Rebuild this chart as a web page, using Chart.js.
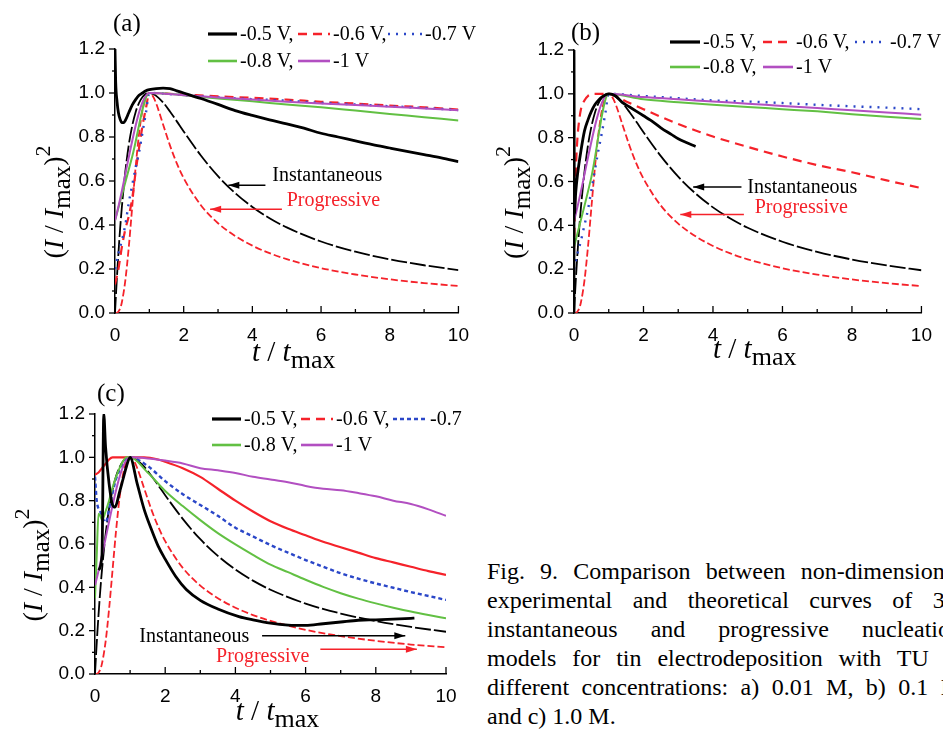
<!DOCTYPE html>
<html>
<head>
<meta charset="utf-8">
<script src="https://cdn.jsdelivr.net/npm/chart.js@4.4.1/dist/chart.umd.min.js"></script>
<style>
  html, body { margin: 0; padding: 0; background: #fff; }
  body { width: 943px; height: 731px; position: relative; overflow: hidden; }
  .panel { position: absolute; }
  #caption { position: absolute; left: 487px; top: 557px; width: 475px;
    font-family: "Liberation Serif", "DejaVu Serif", serif; font-size: 24px; line-height: 29px; color: #000; }
  #caption div { text-align: justify; text-align-last: justify; white-space: nowrap; }
  #caption div.last { text-align-last: left; }
</style>
</head>
<body>
<canvas id="chartA" class="panel" width="480" height="370" style="left:0;top:0"></canvas>
<canvas id="chartB" class="panel" width="463" height="370" style="left:480px;top:0"></canvas>
<canvas id="chartC" class="panel" width="480" height="361" style="left:0;top:370px"></canvas>
<div id="caption">
  <div>Fig. 9. Comparison between non-dimensional</div>
  <div>experimental and theoretical curves of 3D</div>
  <div>instantaneous and progressive nucleation</div>
  <div>models for tin electrodeposition with TU at</div>
  <div>different concentrations: a) 0.01 M, b) 0.1 M</div>
  <div class="last">and c) 1.0 M.</div>
</div>
<script>
// theoretical curves (same in all panels)
const tTheory = [0, 0.05, 0.1, 0.15, 0.2, 0.3, 0.4, 0.5, 0.6, 0.7, 0.8, 0.9, 1.0, 1.1, 1.2, 1.4, 1.6, 1.8, 2.0, 2.5, 3, 3.5, 4, 4.5, 5, 6, 7, 8, 9, 10];
const instantaneous = [0, 0.145, 0.272, 0.385, 0.482, 0.642, 0.763, 0.850, 0.913, 0.955, 0.982, 0.996, 1.0, 0.996, 0.987, 0.957, 0.916, 0.871, 0.825, 0.716, 0.622, 0.545, 0.482, 0.431, 0.389, 0.325, 0.279, 0.244, 0.217, 0.195];
const progressive = [0, 0.001, 0.007, 0.021, 0.049, 0.147, 0.298, 0.480, 0.661, 0.814, 0.922, 0.982, 1.0, 0.986, 0.952, 0.857, 0.762, 0.680, 0.613, 0.490, 0.408, 0.350, 0.306, 0.272, 0.245, 0.204, 0.175, 0.153, 0.136, 0.123];

// (a) 0.01 M  -- [t/tmax, (I/Imax)^2]
const a_m05 = [[0,1.2],[0.02,1.05],[0.06,0.96],[0.1,0.91],[0.15,0.88],[0.2,0.865],[0.25,0.865],[0.3,0.875],[0.4,0.91],[0.5,0.945],[0.6,0.97],[0.7,0.99],[0.8,1.0],[0.9,1.01],[1.0,1.015],[1.2,1.02],[1.4,1.022],[1.6,1.02],[1.8,1.01],[2,1.0],[2.5,0.975],[3,0.948],[3.5,0.92],[4,0.898],[4.5,0.878],[5,0.86],[5.5,0.84],[6,0.817],[6.5,0.8],[7,0.782],[7.5,0.765],[8,0.75],[8.5,0.735],[9,0.72],[9.5,0.705],[10,0.688]];
const a_m06 = [[0,0.13],[0.1,0.2],[0.2,0.3],[0.3,0.38],[0.4,0.44],[0.5,0.52],[0.6,0.64],[0.7,0.75],[0.8,0.85],[0.9,0.93],[1,1.0],[1.5,0.997],[2,0.993],[3,0.985],[4,0.978],[5,0.97],[6,0.96],[7,0.952],[8,0.943],[9,0.935],[10,0.925]];
const a_m07 = [[0,0.2],[0.1,0.27],[0.2,0.33],[0.3,0.4],[0.4,0.5],[0.5,0.58],[0.6,0.66],[0.7,0.73],[0.8,0.82],[0.9,0.91],[1,1.0],[2,0.99],[3,0.98],[4,0.972],[5,0.965],[6,0.955],[7,0.948],[8,0.94],[9,0.932],[10,0.922]];
const a_m08 = [[0,0.42],[0.5,0.71],[1,1.0],[1.5,0.998],[2,0.99],[3,0.975],[4,0.962],[5,0.948],[6,0.935],[7,0.92],[8,0.905],[9,0.89],[10,0.875]];
const a_m10 = [[0,0.42],[1,1.0],[2,0.99],[3,0.98],[4,0.97],[5,0.96],[6,0.952],[7,0.945],[8,0.938],[9,0.93],[10,0.922]];

// (b) 0.1 M
const b_m05 = [[0,0],[0,1.2],[0.01,0.45],[0.05,0.55],[0.1,0.63],[0.2,0.74],[0.3,0.83],[0.4,0.88],[0.5,0.92],[0.6,0.95],[0.7,0.97],[0.8,0.985],[0.9,0.995],[1,1.0],[1.2,0.99],[1.4,0.96],[1.6,0.94],[1.8,0.92],[2,0.9],[2.2,0.88],[2.5,0.845],[2.8,0.815],[3,0.795],[3.2,0.78],[3.5,0.76]];
const b_m06 = [[0,0.28],[0.03,0.5],[0.06,0.68],[0.1,0.8],[0.15,0.88],[0.2,0.93],[0.3,0.97],[0.4,0.99],[0.6,1.0],[1,1.0],[1.5,0.965],[2,0.93],[2.5,0.895],[3,0.862],[3.5,0.833],[4,0.805],[5,0.758],[6,0.714],[7,0.675],[8,0.642],[9,0.605],[10,0.57]];
const b_m07 = [[0,0.2],[0.1,0.27],[0.2,0.33],[0.3,0.4],[0.4,0.47],[0.5,0.56],[0.6,0.65],[0.7,0.74],[0.8,0.82],[0.9,0.91],[1,1.0],[2,0.99],[3,0.98],[4,0.97],[5,0.965],[6,0.958],[7,0.95],[8,0.943],[9,0.937],[10,0.93]];
const b_m08 = [[0,0.3],[0.5,0.62],[1,1.0],[2,0.975],[3,0.962],[4,0.95],[5,0.94],[6,0.93],[7,0.92],[8,0.907],[9,0.895],[10,0.885]];
const b_m10 = [[0,0.42],[1,1.0],[2,0.985],[3,0.975],[4,0.965],[5,0.955],[6,0.945],[7,0.935],[8,0.925],[9,0.915],[10,0.905]];

// (c) 1.0 M
const c_m05 = [[0.1,0.48],[0.2,0.55],[0.25,1.2],[0.3,1.05],[0.4,0.88],[0.5,0.78],[0.57,0.77],[0.7,0.84],[0.8,0.9],[0.9,0.96],[1,1.0],[1.2,0.88],[1.4,0.76],[1.6,0.67],[1.8,0.59],[2,0.53],[2.3,0.45],[2.6,0.39],[3,0.34],[3.5,0.3],[4.1,0.265],[4.5,0.25],[5,0.235],[5.5,0.226],[6,0.224],[6.5,0.232],[7,0.24],[7.5,0.248],[8,0.25],[8.5,0.253],[9,0.257],[9.1,0.258]];
const c_m06 = [[0,0.92],[0.1,0.93],[0.2,0.95],[0.3,0.97],[0.4,0.99],[0.5,1.0],[1,1.0],[1.4,1.0],[1.8,0.99],[2,0.98],[2.5,0.95],[3,0.91],[3.5,0.855],[4,0.8],[4.5,0.75],[5,0.705],[5.5,0.67],[6,0.64],[6.5,0.61],[7,0.585],[7.5,0.56],[8,0.535],[8.5,0.515],[9,0.495],[9.5,0.475],[10,0.457]];
const c_m07 = [[0,0.91],[0.05,0.8],[0.15,0.75],[0.3,0.7],[0.45,0.8],[0.6,0.9],[0.8,0.97],[1,1.0],[1.5,0.96],[2,0.89],[2.5,0.83],[3,0.78],[3.5,0.73],[4,0.675],[4.5,0.635],[5,0.595],[5.5,0.56],[6,0.526],[6.5,0.495],[7,0.465],[7.5,0.44],[8,0.418],[8.5,0.398],[9,0.378],[9.5,0.36],[10,0.342]];
const c_m08 = [[0,0.35],[0.05,0.55],[0.1,0.74],[0.15,0.73],[0.2,0.71],[0.3,0.75],[0.4,0.8],[0.5,0.86],[0.7,0.95],[0.9,1.0],[1,1.0],[1.5,0.93],[2,0.845],[2.5,0.775],[3,0.71],[3.5,0.65],[4,0.598],[4.5,0.55],[5,0.505],[5.5,0.47],[6,0.435],[6.5,0.402],[7,0.373],[7.5,0.348],[8,0.326],[8.5,0.306],[9,0.288],[9.5,0.272],[10,0.257]];
const c_m10 = [[0,0.41],[1,1.0],[1.5,0.995],[2,0.985],[2.5,0.972],[3,0.95],[3.5,0.94],[4,0.928],[4.5,0.91],[5,0.898],[5.5,0.885],[6,0.868],[6.5,0.855],[7,0.848],[7.5,0.835],[8,0.82],[8.5,0.8],[9,0.785],[9.5,0.76],[10,0.73]];

const xTicks = [0, 2, 4, 6, 8, 10];
const yTicks = [0, 0.2, 0.4, 0.6, 0.8, 1.0, 1.2];
const legendNames = ['-0.5 V,', '-0.6 V,', '-0.7 V', '-0.8 V,', '-1 V'];

const RED = '#f5222a', BLUE = '#2b47c8', GREEN = '#62c043', PURPLE = '#b24fc1';
const styles = {
  m05: { color: '#000', width: 3, dash: [] },
  m06: { color: RED, width: 2.2, dash: [9, 6] },
  m07: { color: BLUE, width: 2.4, dash: [2, 6] },
  m08: { color: GREEN, width: 2, dash: [] },
  m10: { color: PURPLE, width: 2, dash: [] }
};
const SERIF = '"Liberation Serif", "DejaVu Serif", serif';
const SANS = '"Liberation Sans", Arial, sans-serif';

const pairs = arr => arr.map(p => ({ x: p[0], y: p[1] }));
const theory = vals => tTheory.map((t, i) => ({ x: t, y: vals[i] }));

function ds(data, st, over) {
  return Object.assign({ data: pairs(data), borderColor: st.color, borderWidth: st.width,
    borderDash: st.dash, showLine: true, pointRadius: 0, cubicInterpolationMode: 'monotone', fill: false }, over || {});
}

function drawRich(ctx, parts, x, y) {
  let total = 0;
  parts.forEach(p => { ctx.font = p[1] + ' ' + p[2] + 'px ' + SERIF; p.w = ctx.measureText(p[0]).width; total += p.w; });
  let cx = x - total / 2;
  parts.forEach(p => { ctx.font = p[1] + ' ' + p[2] + 'px ' + SERIF; ctx.fillText(p[0], cx, y + p[3]); cx += p.w; });
}

function arrow(ctx, x1, y1, x2, y2, color) {
  ctx.strokeStyle = color; ctx.fillStyle = color; ctx.lineWidth = 1.5; ctx.setLineDash([]);
  ctx.beginPath(); ctx.moveTo(x1, y1); ctx.lineTo(x2, y2); ctx.stroke();
  const dir = Math.sign(x2 - x1);
  ctx.beginPath(); ctx.moveTo(x2, y2); ctx.lineTo(x2 - dir * 11, y2 - 3.5); ctx.lineTo(x2 - dir * 11, y2 + 3.5); ctx.closePath(); ctx.fill();
}

const decor = {
  id: 'decor',
  afterDraw(chart, args, o) {
    const ctx = chart.ctx, xs = chart.scales.x, ys = chart.scales.y, a = chart.chartArea;
    ctx.save();
    ctx.strokeStyle = '#000'; ctx.lineWidth = 1.3; ctx.setLineDash([]);
    // x ticks (inward), y ticks (outward)
    for (let t = 0; t <= 10; t++) {
      const px = xs.getPixelForValue(t), len = t % 2 ? 4 : 7;
      ctx.beginPath(); ctx.moveTo(px, a.bottom); ctx.lineTo(px, a.bottom - len); ctx.stroke();
    }
    for (let k = 0; k <= 12; k++) {
      const py = ys.getPixelForValue(k / 10), len = k % 2 ? 3 : 6;
      ctx.beginPath(); ctx.moveTo(a.left, py); ctx.lineTo(a.left - len, py); ctx.stroke();
    }
    ctx.fillStyle = '#000'; ctx.textBaseline = 'alphabetic'; ctx.textAlign = 'left';
    // panel label
    ctx.font = '25px ' + SERIF;
    ctx.fillText(o.label, o.labelX, o.labelY);
    // x title
    const cx = (a.left + a.right) / 2 + 7;
    drawRich(ctx, [['t', 'italic', 29, 0], [' / ', 'normal', 29, 0], ['t', 'italic', 29, 0], ['max', 'normal', 26, 7]], cx, o.xTitleY);
    // y title (rotated)
    ctx.save();
    ctx.translate(o.yTitleX, (a.top + a.bottom) / 2 + 21);
    ctx.rotate(-Math.PI / 2);
    drawRich(ctx, [['(', 'normal', 28, 0], ['I', 'italic', 28, 0], [' / ', 'normal', 28, 0], ['I', 'italic', 28, 0],
      ['max', 'normal', 25, 7], [')', 'normal', 28, 0], ['2', 'normal', 22, -13]], 0, 9);
    ctx.restore();
    // legend
    const keys = ['m05', 'm06', 'm07', 'm08', 'm10'];
    o.legend.forEach((it, i) => {
      const st = styles[keys[i]];
      ctx.strokeStyle = st.color; ctx.lineWidth = i === 0 ? 3.2 : 2.6; ctx.setLineDash(it[4] || st.dash);
      ctx.beginPath(); ctx.moveTo(it[0], it[1]); ctx.lineTo(it[0] + it[2], it[1]); ctx.stroke();
      ctx.setLineDash([]);
      ctx.fillStyle = '#000'; ctx.font = '20px ' + SERIF; ctx.textBaseline = 'middle';
      ctx.fillText(it[3] || legendNames[i], it[0] + it[2] + 3, it[1] + 1);
    });
    // annotations
    ctx.textBaseline = 'middle'; ctx.font = '20px ' + SERIF;
    o.notes.forEach(n => {
      ctx.fillStyle = n.color;
      ctx.fillText(n.text, xs.getPixelForValue(n.at[0]), ys.getPixelForValue(n.at[1]));
      arrow(ctx, xs.getPixelForValue(n.arrow[0]), ys.getPixelForValue(n.arrow[2]),
        xs.getPixelForValue(n.arrow[1]), ys.getPixelForValue(n.arrow[2]), n.color);
    });
    ctx.restore();
  }
};

function makeChart(id, series, sets, box, deco) {
  const datasets = [
    ds(series[0], styles.m05, { borderWidth: 2.8 }),
    ds(series[4], styles.m10),
    ds(series[3], styles.m08),
    ds(series[2], styles.m07, sets.m07 || {}),
    ds(series[1], styles.m06, sets.m06 || {}),
    { data: theory(instantaneous), borderColor: '#000', borderWidth: 1.8, borderDash: [16, 3], showLine: true, pointRadius: 0, cubicInterpolationMode: 'monotone' },
    { data: theory(progressive), borderColor: RED, borderWidth: 1.8, borderDash: [7, 3], showLine: true, pointRadius: 0, cubicInterpolationMode: 'monotone' }
  ];
  return new Chart(document.getElementById(id), {
    type: 'scatter',
    data: { datasets },
    options: {
      responsive: false, animation: false, events: [],
      layout: { padding: { left: 0, top: box.top, right: box.right, bottom: 0 } },
      plugins: { legend: { display: false }, tooltip: { enabled: false }, decor: deco },
      scales: {
        x: { type: 'linear', min: 0, max: 10,
          afterFit: s => { s.height = box.xh; },
          afterBuildTicks: s => { s.ticks = xTicks.map(v => ({ value: v })); },
          grid: { display: false, drawTicks: false }, border: { display: true, color: '#000', width: 1.5 },
          ticks: { color: '#000', padding: 11, maxRotation: 0, font: { family: SANS, size: 19 }, callback: v => String(v) } },
        y: { min: 0, max: 1.2,
          afterFit: s => { s.width = box.left; },
          afterBuildTicks: s => { s.ticks = yTicks.map(v => ({ value: v })); },
          grid: { display: false, drawTicks: false }, border: { display: true, color: '#000', width: 1.5 },
          ticks: { color: '#000', padding: 10, font: { family: SANS, size: 19 }, callback: v => v.toFixed(1) } }
      }
    },
    plugins: [decor]
  });
}

makeChart('chartA', [a_m05, a_m06, a_m07, a_m08, a_m10], {},
  { left: 115, top: 49, right: 11, xh: 57 },
  { label: '(a)', labelX: 113, labelY: 31, xTitleY: 361, yTitleX: 54,
    legend: [[208, 34, 29], [298, 34, 32], [388, 34, 34], [208, 61, 29], [298, 61, 32]],
    notes: [
      { text: 'Instantaneous', color: '#000', at: [4.58, 0.626], arrow: [4.38, 3.3, 0.581] },
      { text: 'Progressive', color: RED, at: [5.0, 0.508], arrow: [4.86, 2.77, 0.472] }
    ] });

makeChart('chartB', [b_m05, b_m06, b_m07, b_m08, b_m10], {},
  { left: 94, top: 50, right: 16, xh: 57 },
  { label: '(b)', labelX: 91, labelY: 40, xTitleY: 358, yTitleX: 34,
    legend: [[190, 42, 30], [283, 42, 30], [375, 42, 32], [190, 67, 30], [283, 67, 30]],
    notes: [
      { text: 'Instantaneous', color: '#000', at: [4.99, 0.573], arrow: [4.82, 3.43, 0.575] },
      { text: 'Progressive', color: RED, at: [5.2, 0.478], arrow: [4.89, 3.06, 0.45] }
    ] });

makeChart('chartC', [c_m05, c_m06, c_m07, c_m08, c_m10],
  { m06: { borderDash: [], borderWidth: 2.2 }, m07: { borderDash: [4, 3] } },
  { left: 95, top: 44, right: 34, xh: 57 },
  { label: '(c)', labelX: 97, labelY: 31, xTitleY: 350, yTitleX: 33,
    legend: [[212, 49, 29], [301, 49, 32], [393, 49, 34, '-0.7', [4, 3]], [212, 75, 29], [301, 75, 32]],
    notes: [
      { text: 'Instantaneous', color: '#000', at: [1.26, 0.172], arrow: [4.76, 8.84, 0.177] },
      { text: 'Progressive', color: RED, at: [3.45, 0.078], arrow: [6.42, 9.17, 0.114] }
    ] });
</script>
</body>
</html>
